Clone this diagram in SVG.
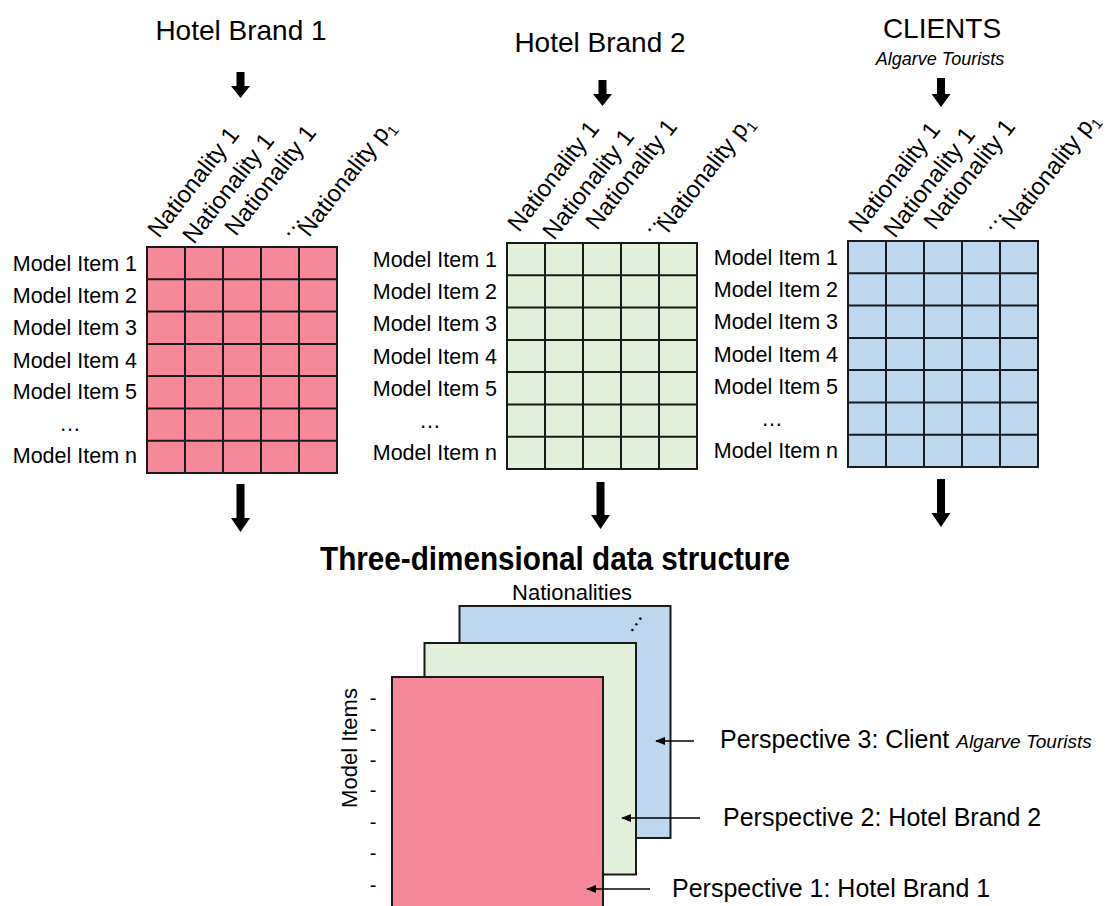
<svg xmlns="http://www.w3.org/2000/svg" xmlns:xlink="http://www.w3.org/1999/xlink" width="1113" height="906" viewBox="0 0 1113 906">
  <style>
    .t { font-family: "Liberation Sans", Arial, sans-serif; fill: #000; }
    .title { font-size: 28px; }
    .sub { font-size: 18px; font-style: italic; }
    .lbl { font-size: 21.5px; }
    .hdr { font-size: 24px; }
    .persp { font-size: 25px; }
    .gl { fill: none; stroke: #1a1a1a; stroke-width: 2; }
    .pink { fill: #F5899A; }
    .green { fill: #E2EFDA; }
    .blue { fill: #BDD7EE; }
    .blk { fill: #000; }
    .thin { stroke: #000; stroke-width: 1.3; fill: none; }
  </style>
  <defs>
    <!-- inner lines of a 5 x 7 matrix, 190 x 226 -->
    <path id="cells" d="M38 0V226M76 0V226M114 0V226M152 0V226M0 32.3H190M0 64.6H190M0 96.9H190M0 129.1H190M0 161.4H190M0 193.7H190"/>
    <marker id="tip" markerWidth="10" markerHeight="8" refX="9" refY="4" orient="auto" markerUnits="userSpaceOnUse">
      <path d="M0 0L10 4L0 8Z" fill="#000"/>
    </marker>
  </defs>

  <!-- source titles -->
  <g id="brand1-title">
    <text class="t title" x="241" y="40" text-anchor="middle">Hotel Brand 1</text>
  </g>
  <g id="brand2-title">
    <text class="t title" x="600" y="52" text-anchor="middle">Hotel Brand 2</text>
  </g>
  <g id="clients-title">
    <text class="t title" x="942" y="38" text-anchor="middle">CLIENTS</text>
    <text class="t sub" x="940" y="65" text-anchor="middle">Algarve Tourists</text>
  </g>

  <!-- matrix: Hotel Brand 1 -->
  <g id="matrix1">
    <rect class="pink" x="147" y="247" width="190" height="226"/>
    <use xlink:href="#cells" class="gl" x="147" y="247"/>
    <rect class="gl" x="147" y="247" width="190" height="226"/>
    <g class="t lbl" text-anchor="end">
      <text x="137" y="271">Model Item 1</text>
      <text x="137" y="303">Model Item 2</text>
      <text x="137" y="335">Model Item 3</text>
      <text x="137" y="368">Model Item 4</text>
      <text x="137" y="399">Model Item 5</text>
      <text x="70" y="431" text-anchor="middle">…</text>
      <text x="137" y="463">Model Item n</text>
    </g>
    <g class="t hdr">
      <text transform="translate(159,239) rotate(-52)">Nationality 1</text>
      <text transform="translate(194,245) rotate(-52)">Nationality 1</text>
      <text transform="translate(236,237) rotate(-52)">Nationality 1</text>
      <text transform="translate(287,238) rotate(-52)">…</text>
      <text transform="translate(309,238) rotate(-52)">Nationality p<tspan font-size="15" dy="5">1</tspan></text>
    </g>
  </g>

  <!-- matrix: Hotel Brand 2 -->
  <g id="matrix2">
    <rect class="green" x="507" y="243" width="190" height="226"/>
    <use xlink:href="#cells" class="gl" x="507" y="243"/>
    <rect class="gl" x="507" y="243" width="190" height="226"/>
    <g class="t lbl" text-anchor="end">
      <text x="497" y="267">Model Item 1</text>
      <text x="497" y="299">Model Item 2</text>
      <text x="497" y="331">Model Item 3</text>
      <text x="497" y="364">Model Item 4</text>
      <text x="497" y="396">Model Item 5</text>
      <text x="430" y="428" text-anchor="middle">…</text>
      <text x="497" y="460">Model Item n</text>
    </g>
    <g class="t hdr">
      <text transform="translate(519,233) rotate(-52)">Nationality 1</text>
      <text transform="translate(554,241) rotate(-52)">Nationality 1</text>
      <text transform="translate(597,231) rotate(-52)">Nationality 1</text>
      <text transform="translate(648,234) rotate(-52)">…</text>
      <text transform="translate(668,234) rotate(-52)">Nationality p<tspan font-size="15" dy="5">1</tspan></text>
    </g>
  </g>

  <!-- matrix: Clients -->
  <g id="matrix3">
    <rect class="blue" x="848" y="241" width="190" height="226"/>
    <use xlink:href="#cells" class="gl" x="848" y="241"/>
    <rect class="gl" x="848" y="241" width="190" height="226"/>
    <g class="t lbl" text-anchor="end">
      <text x="838" y="265">Model Item 1</text>
      <text x="838" y="297">Model Item 2</text>
      <text x="838" y="329">Model Item 3</text>
      <text x="838" y="362">Model Item 4</text>
      <text x="838" y="394">Model Item 5</text>
      <text x="772" y="426" text-anchor="middle">…</text>
      <text x="838" y="458">Model Item n</text>
    </g>
    <g class="t hdr">
      <text transform="translate(860,234) rotate(-52)">Nationality 1</text>
      <text transform="translate(895,239) rotate(-52)">Nationality 1</text>
      <text transform="translate(935,231) rotate(-52)">Nationality 1</text>
      <text transform="translate(989,232) rotate(-52)">…</text>
      <text transform="translate(1013,231) rotate(-52)">Nationality p<tspan font-size="15" dy="5">1</tspan></text>
    </g>
  </g>

  <!-- stacked data cube -->
  <g id="cube-title">
    <text class="t" x="555" y="570" text-anchor="middle" font-size="33" font-weight="bold" textLength="470" lengthAdjust="spacingAndGlyphs">Three-dimensional  data  structure</text>
  </g>
  <g id="layer3">
    <rect class="blue" x="459.5" y="606" width="211" height="232" stroke="#1a1a1a" stroke-width="2"/>
    <text class="t" x="572" y="600" font-size="22" text-anchor="middle">Nationalities</text>
    <text class="t" transform="translate(631,634) rotate(-55)" font-size="22">…</text>
  </g>
  <g id="layer2">
    <rect class="green" x="424.5" y="643" width="211.5" height="231.5" stroke="#1a1a1a" stroke-width="2"/>
  </g>
  <g id="layer1">
    <rect class="pink" x="392" y="677" width="211" height="240" stroke="#1a1a1a" stroke-width="2"/>
    <text class="t" transform="translate(357,748) rotate(-90)" font-size="22" text-anchor="middle">Model Items</text>
    <g class="t" font-size="20" text-anchor="middle">
      <text x="373" y="705">-</text>
      <text x="373" y="736">-</text>
      <text x="373" y="767">-</text>
      <text x="373" y="797">-</text>
      <text x="373" y="829">-</text>
      <text x="373" y="860">-</text>
      <text x="373" y="892">-</text>
    </g>
  </g>

  <!-- block arrows and pointer lines -->
  <g id="connectors">
    <path class="blk" d="M236.5 72H244.5V86H250L240.5 98L231 86H236.5Z"/>
    <path class="blk" d="M598.5 80H606.5V94H612L602.5 106L593 94H598.5Z"/>
    <path class="blk" d="M937 78H945V94H950.5L941 107L931.5 94H937Z"/>
    <path class="blk" d="M236.5 484H244.5V518H250L240.5 532L231 518H236.5Z"/>
    <path class="blk" d="M596.5 482H604.5V515H610L600.5 529L591 515H596.5Z"/>
    <path class="blk" d="M937 479H945V513H950.5L941 527L931.5 513H937Z"/>
    <line class="thin" x1="694" y1="741" x2="656" y2="741" marker-end="url(#tip)"/>
    <line class="thin" x1="700" y1="818" x2="622" y2="818" marker-end="url(#tip)"/>
    <line class="thin" x1="650" y1="889" x2="587" y2="889" marker-end="url(#tip)"/>
  </g>

  <!-- perspective labels -->
  <g id="persp3">
    <text class="t persp" x="720" y="748">Perspective 3: Client <tspan font-size="19" font-style="italic">Algarve Tourists</tspan></text>
  </g>
  <g id="persp2">
    <text class="t persp" x="723" y="826">Perspective 2: Hotel Brand 2</text>
  </g>
  <g id="persp1">
    <text class="t persp" x="672" y="897">Perspective 1: Hotel Brand 1</text>
  </g>
</svg>
